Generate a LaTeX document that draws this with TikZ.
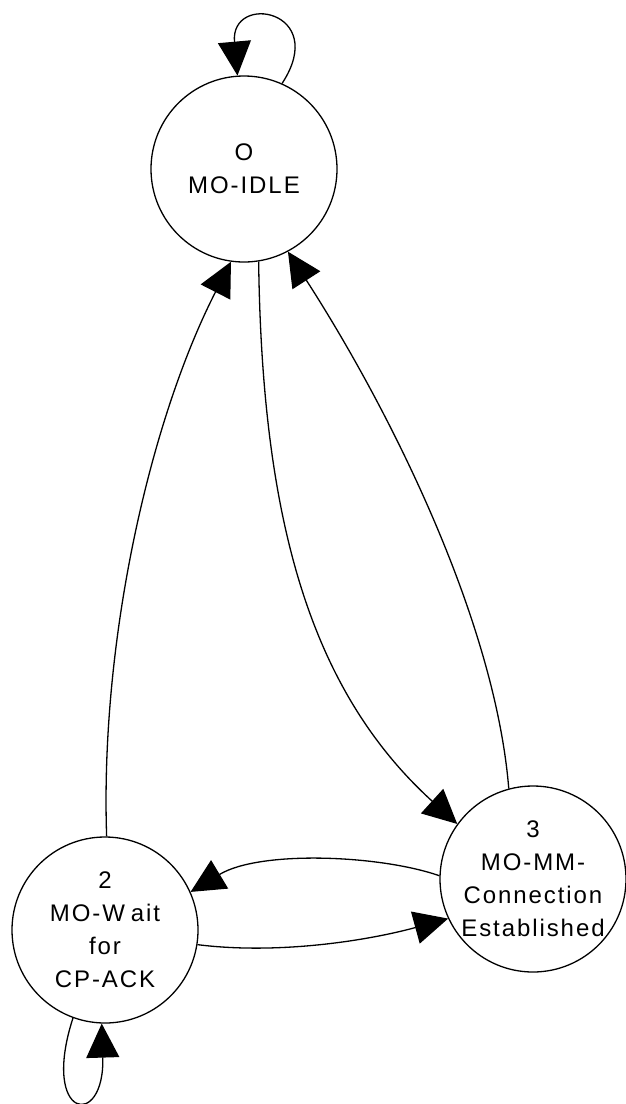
\documentclass[tikz,border=0pt]{standalone}
\usepackage{fontspec}
\setmainfont{Liberation Sans}[LetterSpace=8]
\usetikzlibrary{arrows.meta}
\begin{document}
\begin{tikzpicture}[x=1pt,y=-1pt,
  stt/.style={circle,draw,line width=1.3pt,minimum size=186pt,inner sep=0pt,align=center,font=\fontsize{24}{33}\selectfont},
  tr/.style={line width=1.3pt,-{Triangle[length=34pt,width=33pt]}}]
\useasboundingbox (0,0) rectangle (625,1104);
\node[stt] (s0) at (244,169) {O\\MO-IDLE};
\node[stt] (s2) at (105,930) {2\\MO-W\kern6pt ait\\for\\CP-ACK};
\node[stt] (s3) at (533,879) {3\\MO-MM-\\Connection\\Established};
\draw[tr] (s2.89) .. controls (100,640) and (150,420) .. (s0.-98);
\draw[tr] (s0.-81) .. controls (262,520) and (310,690) .. (s3.144.6);
\draw[tr] (s3.105) .. controls (495,620) and (390,410) .. (s0.-62);
\draw[tr] (s3.178) .. controls (380,855) and (260,850) .. (s2.24);
\draw[tr] (s2.-9) .. controls (280,955) and (370,940) .. (s3.-155);
\draw[tr] (s0.66) .. controls (330,10) and (230,-8) .. (s0.94);
\draw[tr] (s2.250) .. controls (40,1120) and (105,1130) .. (s2.-92);
\end{tikzpicture}
\end{document}
